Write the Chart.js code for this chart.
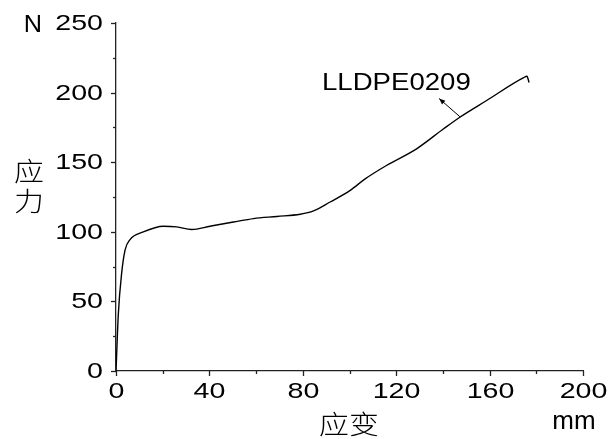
<!DOCTYPE html>
<html>
<head>
<meta charset="utf-8">
<script src="https://cdn.jsdelivr.net/npm/chart.js@4/dist/chart.umd.min.js"></script>
<style>
html,body{margin:0;padding:0;background:#fff;}
#wrap{width:608px;height:439px;position:relative;}
</style>
</head>
<body>
<div id="wrap"><canvas id="c" width="608" height="439"></canvas></div>
<script>
// ---- data ----
const strain = [0, 1, 2.4, 3.9, 6, 11.7, 20.3, 26, 32.4, 40.3, 50.3, 58.9, 68.9, 78.9, 84.6, 91.7, 100.3, 106.7, 116, 128.9, 140.3, 147.4, 158.9, 174.6, 176, 176.9];
const stress = [0, 41, 70, 87, 94.4, 99.9, 104, 103.5, 101.6, 104, 107, 109.5, 111, 112.6, 115, 121.4, 129.8, 138, 147.8, 159.8, 174, 182.5, 194.5, 210.8, 211.7, 207.2];
const xMajorTicks = [0, 40, 80, 120, 160, 200];
const xMinorTicks = [20, 60, 100, 140, 180];
const yMajorTicks = [0, 50, 100, 150, 200, 250];
const yMinorTicks = [25, 75, 125, 175, 225];
const seriesLabel = 'LLDPE0209';
const labelAt = [88.2, 206.7];
const arrowFrom = [147.4, 182.5];
const arrowTo = [138.4, 195.7];
const yTitle = ['应', '力'];
const yUnit = 'N';
const xTitle = '应变';
const xUnit = 'mm';

const FONT = '"Liberation Sans", Arial, sans-serif';
const CJK = '"Noto Sans CJK SC", sans-serif';
const INK = '#000';

function stext(ctx, t, x, y, size, sx, align, family, weight) {
  ctx.save();
  ctx.font = (weight || 'normal') + ' ' + size + 'px ' + family;
  ctx.textBaseline = 'middle';
  ctx.textAlign = 'left';
  const w = ctx.measureText(t).width * sx;
  const x0 = align === 'center' ? x - w / 2 : (align === 'right' ? x - w : x);
  ctx.translate(x0, y);
  ctx.scale(sx, 1);
  ctx.fillStyle = INK;
  ctx.fillText(t, 0, 0);
  ctx.restore();
}

const decor = {
  id: 'decor',
  afterDraw(chart) {
    const ctx = chart.ctx;
    const xs = chart.scales.x, ys = chart.scales.y;
    const x0 = xs.getPixelForValue(0), y0 = ys.getPixelForValue(0);
    ctx.save();
    ctx.strokeStyle = '#222';
    ctx.lineWidth = 1.3;
    xMajorTicks.forEach(v => {
      const p = Math.round(xs.getPixelForValue(v)) + 0.5;
      ctx.beginPath(); ctx.moveTo(p, y0); ctx.lineTo(p, y0 + 5); ctx.stroke();
      stext(ctx, String(v), p, y0 + 21, 22, 1.3, 'center', FONT);
    });
    xMinorTicks.forEach(v => {
      const p = Math.round(xs.getPixelForValue(v)) + 0.5;
      ctx.beginPath(); ctx.moveTo(p, y0); ctx.lineTo(p, y0 + 3); ctx.stroke();
    });
    yMajorTicks.forEach(v => {
      const p = Math.round(ys.getPixelForValue(v)) + 0.5;
      ctx.beginPath(); ctx.moveTo(x0, p); ctx.lineTo(x0 - 5, p); ctx.stroke();
      stext(ctx, String(v), x0 - 13, p, 22, 1.3, 'right', FONT);
    });
    yMinorTicks.forEach(v => {
      const p = Math.round(ys.getPixelForValue(v)) + 0.5;
      ctx.beginPath(); ctx.moveTo(x0, p); ctx.lineTo(x0 - 3, p); ctx.stroke();
    });
    ctx.restore();

    stext(ctx, yUnit, 33, 26, 23, 1.1, 'center', FONT);
    stext(ctx, yTitle[0], 29, 171, 26, 1.15, 'center', CJK, '300');
    stext(ctx, yTitle[1], 29, 201, 26, 1.15, 'center', CJK, '300');
    stext(ctx, xTitle, 349, 424, 26, 1.15, 'center', CJK, '300');
    stext(ctx, xUnit, 574, 422, 26, 1.0, 'center', FONT);

    const lx = xs.getPixelForValue(labelAt[0]), ly = ys.getPixelForValue(labelAt[1]);
    stext(ctx, seriesLabel, lx, ly, 24, 1.15, 'left', FONT);
    const ax = xs.getPixelForValue(arrowFrom[0]), ay = ys.getPixelForValue(arrowFrom[1]);
    const bx = xs.getPixelForValue(arrowTo[0]), by = ys.getPixelForValue(arrowTo[1]);
    ctx.save();
    ctx.strokeStyle = INK; ctx.fillStyle = INK; ctx.lineWidth = 1;
    ctx.beginPath(); ctx.moveTo(ax, ay); ctx.lineTo(bx, by); ctx.stroke();
    const ang = Math.atan2(by - ay, bx - ax);
    const L = 6, W = 2.5;
    ctx.beginPath();
    ctx.moveTo(bx, by);
    ctx.lineTo(bx - L * Math.cos(ang) + W * Math.sin(ang), by - L * Math.sin(ang) - W * Math.cos(ang));
    ctx.lineTo(bx - L * Math.cos(ang) - W * Math.sin(ang), by - L * Math.sin(ang) + W * Math.cos(ang));
    ctx.closePath(); ctx.fill();
    ctx.restore();
  }
};

new Chart(document.getElementById('c'), {
  type: 'line',
  data: {
    datasets: [{
      label: seriesLabel,
      data: strain.map((x, i) => ({ x: x, y: stress[i] })),
      borderColor: '#000',
      borderWidth: 1.4,
      pointRadius: 0,
      fill: false,
      cubicInterpolationMode: 'monotone'
    }]
  },
  options: {
    responsive: false,
    animation: false,
    layout: { padding: { left: 116, right: 25, top: 23, bottom: 68 } },
    plugins: { legend: { display: false }, tooltip: { enabled: false } },
    scales: {
      x: {
        type: 'linear', min: 0, max: 200,
        ticks: { display: false, stepSize: 20 },
        grid: { display: false, drawTicks: false },
        border: { display: true, color: '#222', width: 1.3 }
      },
      y: {
        type: 'linear', min: 0, max: 250,
        ticks: { display: false, stepSize: 25 },
        grid: { display: false, drawTicks: false },
        border: { display: true, color: '#222', width: 1.3 }
      }
    }
  },
  plugins: [decor]
});
</script>
</body>
</html>
